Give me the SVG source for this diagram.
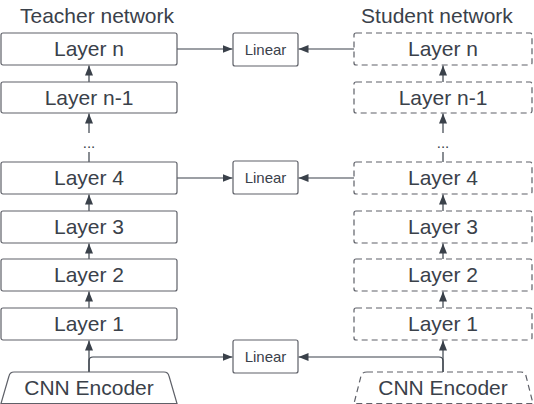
<svg xmlns="http://www.w3.org/2000/svg" width="534" height="404" viewBox="0 0 534 404">
<defs>
<marker id="ah" markerUnits="userSpaceOnUse" markerWidth="11" markerHeight="9" refX="10" refY="4" orient="auto">
<path d="M0,0 L10,4 L0,8 z" fill="#3a414a"/>
</marker>
<style>
.box{fill:#fff;stroke:#5e6068;stroke-width:1.2}
.dash{stroke-dasharray:6,4}
.t{font-family:"Liberation Sans",Arial,sans-serif;font-size:21px;fill:#3a414a;text-anchor:middle}
.s{font-family:"Liberation Sans",Arial,sans-serif;font-size:15px;fill:#3a414a;text-anchor:middle}
.c{fill:none;stroke:#3a414a;stroke-width:1.2;marker-end:url(#ah)}
.p{fill:none;stroke:#3a414a;stroke-width:1.2}
</style>
</defs>
<rect width="534" height="404" fill="#fff"/>
<text class="t" x="97" y="23">Teacher network</text>
<text class="t" x="437" y="23">Student network</text>

<g id="connectors">
<path class="c" d="M89,82 V65.5"/>
<path class="p" d="M89,162 V152"/>
<text class="s" x="89" y="148">...</text>
<path class="c" d="M89,133 V113.5"/>
<path class="c" d="M89,211 V194.5"/>
<path class="c" d="M89,259 V243.5"/>
<path class="c" d="M89,308 V291.5"/>
<path class="c" d="M89,372 V340.5"/>
<path class="c" d="M89,372 V361 Q89,357 93,357 H232.5"/>

<path class="c" d="M443,82 V65.5"/>
<path class="p" d="M443,162 V152"/>
<text class="s" x="443" y="148">...</text>
<path class="c" d="M443,133 V113.5"/>
<path class="c" d="M443,211 V194.5"/>
<path class="c" d="M443,259 V243.5"/>
<path class="c" d="M443,308 V291.5"/>
<path class="c" d="M443,372 V340.5"/>
<path class="c" d="M443,372 V361 Q443,357 439,357 H298.5"/>

<path class="c" d="M177,49 H232.5"/>
<path class="c" d="M354,49 H298.5"/>
<path class="c" d="M177,178 H232.5"/>
<path class="c" d="M354,178 H298.5"/>
</g>

<g id="t-layer-n"><rect class="box" x="1" y="33" width="176" height="32" rx="2"/><text class="t" x="89" y="56">Layer n</text></g>
<g id="t-layer-n1"><rect class="box" x="1" y="82" width="176" height="31" rx="2"/><text class="t" x="89" y="104.5">Layer n-1</text></g>
<g id="t-layer-4"><rect class="box" x="1" y="162" width="176" height="32" rx="2"/><text class="t" x="89" y="185">Layer 4</text></g>
<g id="t-layer-3"><rect class="box" x="1" y="211" width="176" height="32" rx="2"/><text class="t" x="89" y="234">Layer 3</text></g>
<g id="t-layer-2"><rect class="box" x="1" y="259" width="176" height="32" rx="2"/><text class="t" x="89" y="282">Layer 2</text></g>
<g id="t-layer-1"><rect class="box" x="1" y="308" width="176" height="32" rx="2"/><text class="t" x="89" y="331">Layer 1</text></g>
<g id="t-cnn"><path class="box" d="M14,372 H164 Q168,372 169,376 L177,403.5 H1 L9,376 Q10,372 14,372 Z"/><text class="t" x="89" y="395">CNN Encoder</text></g>

<g id="s-layer-n"><rect class="box dash" x="354" y="33" width="178" height="32" rx="2"/><text class="t" x="443" y="56">Layer n</text></g>
<g id="s-layer-n1"><rect class="box dash" x="354" y="82" width="178" height="31" rx="2"/><text class="t" x="443" y="104.5">Layer n-1</text></g>
<g id="s-layer-4"><rect class="box dash" x="354" y="162" width="178" height="32" rx="2"/><text class="t" x="443" y="185">Layer 4</text></g>
<g id="s-layer-3"><rect class="box dash" x="354" y="211" width="178" height="32" rx="2"/><text class="t" x="443" y="234">Layer 3</text></g>
<g id="s-layer-2"><rect class="box dash" x="354" y="259" width="178" height="32" rx="2"/><text class="t" x="443" y="282">Layer 2</text></g>
<g id="s-layer-1"><rect class="box dash" x="354" y="308" width="178" height="32" rx="2"/><text class="t" x="443" y="331">Layer 1</text></g>
<g id="s-cnn"><path class="box dash" d="M367,372 H521 Q525,372 526,376 L533,403.5 H354 L361,376 Q362,372 367,372 Z"/><text class="t" x="443" y="395">CNN Encoder</text></g>

<g id="linear-top"><rect class="box" x="233" y="33" width="65" height="33" rx="2"/><text class="s" x="265.5" y="55">Linear</text></g>
<g id="linear-mid"><rect class="box" x="233" y="161" width="65" height="33" rx="2"/><text class="s" x="265.5" y="183">Linear</text></g>
<g id="linear-bot"><rect class="box" x="233" y="340" width="65" height="33" rx="2"/><text class="s" x="265.5" y="362">Linear</text></g>
</svg>
